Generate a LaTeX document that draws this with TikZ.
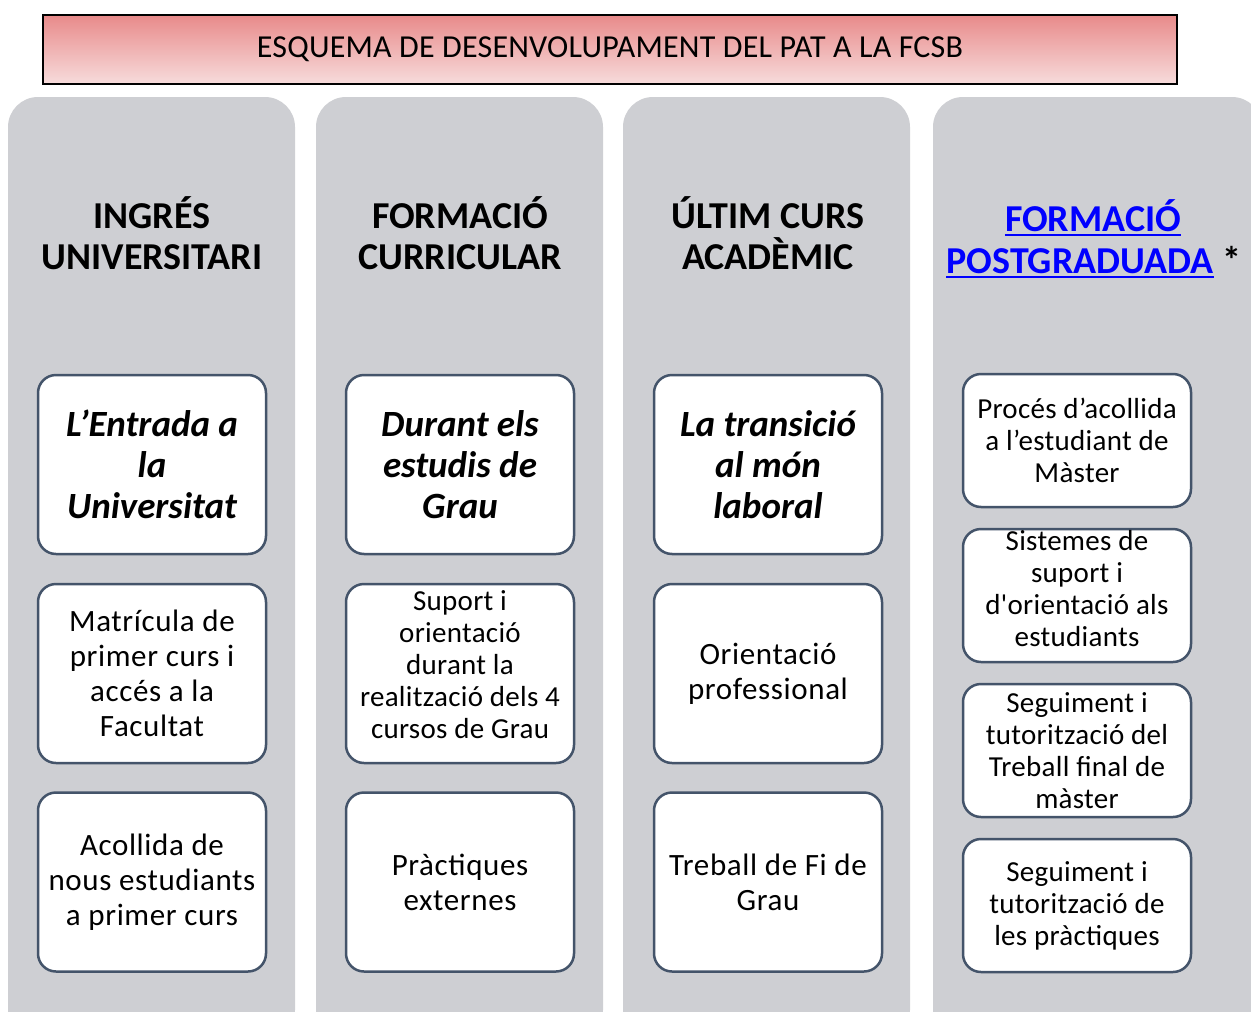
\documentclass[tikz,border=0pt]{standalone}
\usepackage{fontspec}
\setmainfont{Carlito}
\newfontfamily\bodyfont[LetterSpace=2.0]{Carlito}
\newfontfamily\smallfont[LetterSpace=1.0]{Carlito}
\newfontfamily\titlefont[LetterSpace=0.7]{Carlito}
\definecolor{colgray}{RGB}{206,207,211}
\definecolor{boxline}{RGB}{68,84,106}
\definecolor{titletop}{RGB}{232,138,138}
\definecolor{titlebot}{RGB}{247,220,220}
\definecolor{linkblue}{RGB}{0,0,255}
\begin{document}
\begin{tikzpicture}[x=1pt,y=-1pt,
  column/.style={fill=colgray, rounded corners=30pt},
  box/.style={draw=boxline, line width=2.5pt, fill=white, rounded corners=18pt,
    minimum width=228pt, minimum height=179pt, align=center, inner sep=2pt},
  sbox/.style={box, minimum height=133pt},
  boxtext/.style={align=center, inner sep=0pt},
  hdr/.style={font=\fontsize{38}{41}\selectfont\bfseries, align=center, inner sep=0pt},
  ital/.style={font=\fontsize{37}{41}\selectfont\bfseries\itshape},
  body/.style={font=\bodyfont\fontsize{31}{35}\selectfont},
  small/.style={font=\smallfont\fontsize{29}{32}\selectfont}
]
\useasboundingbox (0,0) rectangle (1251,1012);
\begin{scope}
\clip (0,0) rectangle (1251,1012);
\path[column] (8,97) rectangle (295,1040);
\path[column] (316,97) rectangle (603,1040);
\path[column] (623,97) rectangle (910,1040);
\path[column] (933,97) rectangle (1262,1040);
\end{scope}

\node[draw=black, line width=2pt, top color=titletop, bottom color=titlebot,
  minimum width=1134pt, minimum height=69pt, font=\titlefont\fontsize{32}{36}\selectfont]
  (title) at (610,49.5) {ESQUEMA DE DESENVOLUPAMENT DEL PAT A LA FCSB};

% headers
\node[hdr] (h1) at (152,233) {INGRÉS\\UNIVERSITARI};
\node[hdr] (h2) at (460,233) {FORMACIÓ\\CURRICULAR};
\node[hdr] (h3) at (768,233) {ÚLTIM CURS\\ACADÈMIC};
\node[hdr, text=linkblue, anchor=base] (h4a) at (1093,231) {FORMACIÓ};
\node[hdr, text=linkblue, anchor=base] (h4b) at (1080,273) {POSTGRADUADA};
\node[hdr, anchor=base west] (star) at ([xshift=9pt]h4b.base east) {*};
\draw[linkblue, line width=2.8pt] ([yshift=-4pt]h4a.base west) -- ([yshift=-4pt]h4a.base east);
\draw[linkblue, line width=2.8pt] ([yshift=-4pt]h4b.base west) -- ([yshift=-4pt]h4b.base east);

% column 1
\node[box, ital] (a1) at (152,464.5) {L’Entrada a\\la\\Universitat};
\node[box, body] (a2) at (152,673.5) {Matrícula de\\primer curs i\\accés a la\\Facultat};
\node[box, body] (a3) at (152,882) {Acollida de\\nous estudiants\\a primer curs};
% column 2
\node[box, ital] (b1) at (460,464.5) {Durant els\\estudis de\\Grau};
\node[box] (b2) at (460,673.5) {};
\node[boxtext, small] (b2t) at ([yshift=9pt]b2.center) {Suport i\\orientació\\durant la\\realització dels 4\\cursos de Grau};
\node[box, body] (b3) at (460,882) {Pràctiques\\externes};
% column 3
\node[box, ital] (c1) at (768,464.5) {La transició\\al món\\laboral};
\node[box, body] (c2) at (768,673.5) {Orientació\\professional};
\node[box, body] (c3) at (768,882) {Treball de Fi de\\Grau};
% column 4
\node[sbox, small] (d1) at (1077,440.5) {Procés d’acollida\\a l’estudiant de\\Màster};
\node[sbox] (d2) at (1077,595.5) {};
\node[boxtext, small] (d2t) at ([yshift=7pt]d2.center) {Sistemes de\\suport i\\d'orientació als\\estudiants};
\node[sbox, small] (d3) at (1077,750.5) {Seguiment i\\tutorització del\\Treball final de\\màster};
\node[sbox, small] (d4) at (1077,905.5) {Seguiment i\\tutorització de\\les pràctiques};
\end{tikzpicture}
\end{document}
